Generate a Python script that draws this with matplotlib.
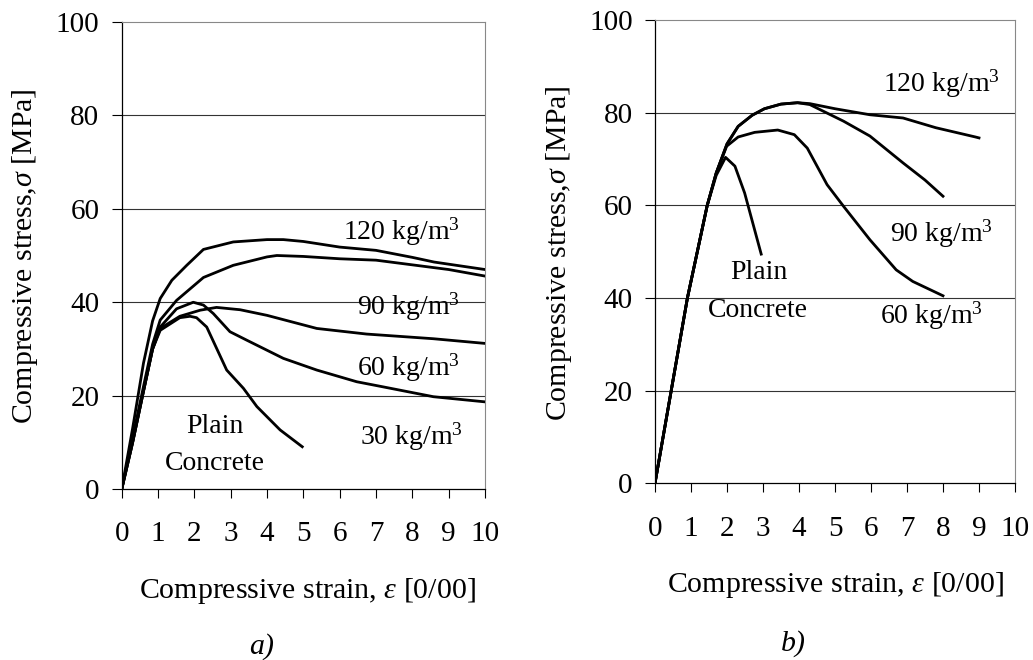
import matplotlib
matplotlib.use("Agg")
import matplotlib.pyplot as plt

plt.rcParams['font.family'] = ['Liberation Serif', 'DejaVu Serif']
plt.rcParams['mathtext.fontset'] = 'custom'
plt.rcParams['mathtext.rm'] = 'Liberation Serif'
plt.rcParams['mathtext.it'] = 'Liberation Serif:italic'

# ---- panel a) ----
a120_x = [0, 0.3, 0.6, 0.85, 1.06, 1.38, 1.79, 2.25, 3.07, 4.0, 4.45, 5.0, 6.0, 7.0, 8.0, 8.6, 10]
a120_y = [0, 13, 27, 36, 40.8, 44.7, 47.9, 51.3, 52.9, 53.4, 53.4, 53.0, 51.8, 51.1, 49.6, 48.6, 47.0]
a90_x = [0, 0.3, 0.6, 0.85, 1.06, 1.51, 2.25, 3.07, 4.0, 4.27, 5.0, 6.0, 7.0, 8.1, 9.0, 10]
a90_y = [0, 11, 22, 31, 36.2, 40.4, 45.3, 47.9, 49.7, 50.0, 49.8, 49.3, 49.0, 47.9, 47.0, 45.6]
a60_x = [0, 0.3, 0.6, 0.85, 1.06, 1.6, 2.16, 2.61, 3.26, 4.0, 5.37, 6.74, 8.58, 10]
a60_y = [0, 10, 21, 30, 34.4, 37.0, 38.3, 38.9, 38.4, 37.2, 34.4, 33.2, 32.2, 31.2]
a30_x = [0, 0.3, 0.6, 0.85, 1.06, 1.51, 1.97, 2.25, 2.52, 2.98, 3.44, 4.45, 5.37, 6.47, 7.2, 8.58, 10]
a30_y = [0, 10, 21, 30, 34.7, 38.6, 40.0, 39.4, 37.6, 33.7, 31.9, 28.0, 25.5, 23.0, 21.9, 19.8, 18.7]
a_plain_x = [0, 0.3, 0.6, 0.85, 1.06, 1.6, 1.88, 2.06, 2.34, 2.89, 3.35, 3.72, 4.36, 4.97]
a_plain_y = [0, 10, 21, 30, 34.0, 36.7, 37.0, 36.7, 34.7, 25.5, 21.6, 17.7, 12.7, 9.1]

# ---- panel b) ----
b120_x = [0, 0.45, 0.9, 1.45, 1.7, 2.0, 2.31, 2.7, 3.04, 3.5, 3.96, 4.3, 5.0, 5.97, 6.89, 7.8, 8.9, 9.0]
b120_y = [0, 20, 40, 60, 67, 73.3, 77.1, 79.5, 80.9, 81.9, 82.2, 82.0, 80.9, 79.6, 78.9, 76.8, 74.8, 74.6]
b90_x = [0, 0.45, 0.9, 1.45, 1.7, 2.0, 2.31, 2.7, 3.04, 3.5, 3.96, 4.3, 5.24, 5.97, 6.89, 7.5, 8.0]
b90_y = [0, 20, 40, 60, 67, 73.3, 77.1, 79.5, 80.9, 81.9, 82.2, 81.8, 78.2, 75.0, 69.2, 65.5, 62.0]
b60_x = [0, 0.45, 0.9, 1.45, 1.7, 1.99, 2.31, 2.77, 3.41, 3.87, 4.23, 4.78, 5.24, 5.97, 6.7, 7.16, 8.0]
b60_y = [0, 20, 40, 60, 67, 72.8, 74.8, 75.8, 76.3, 75.3, 72.4, 64.5, 59.8, 52.6, 46.1, 43.6, 40.5]
b_plain_x = [0, 0.45, 0.9, 1.45, 1.7, 1.96, 2.22, 2.49, 2.95]
b_plain_y = [0, 20, 40, 60, 66.5, 70.4, 68.5, 62.7, 49.5]

x_ticks = list(range(0, 11))
y_ticks = [0, 20, 40, 60, 80, 100]

W, H = 1033, 660
fig = plt.figure(figsize=(W / 100, H / 100), dpi=100)


def setup(ax, xpad):
    ax.set_xlim(0, 10)
    ax.set_ylim(0, 100)
    ax.set_xticks(x_ticks)
    ax.set_yticks(y_ticks)
    ax.tick_params(axis='x', direction='out', length=6.5, width=0.8, pad=xpad, labelsize=21)
    ax.tick_params(axis='y', direction='out', length=7, width=0.8, pad=9, labelsize=21)
    for y in y_ticks[1:-1]:
        ax.axhline(y, color='#333333', lw=0.8, zorder=1)
    ax.spines['left'].set_color('black')
    ax.spines['bottom'].set_color('black')
    ax.spines['left'].set_linewidth(0.9)
    ax.spines['bottom'].set_linewidth(0.9)
    ax.spines['top'].set_color('#888888')
    ax.spines['right'].set_color('#888888')
    ax.spines['top'].set_linewidth(0.8)
    ax.spines['right'].set_linewidth(0.8)


lw = 2.0
ax1 = fig.add_axes([121.7 / W, 1 - 489.3 / H, 363.3 / W, 467.6 / H])
setup(ax1, 16)
for xs, ys in [(a120_x, a120_y), (a90_x, a90_y), (a60_x, a60_y), (a30_x, a30_y), (a_plain_x, a_plain_y)]:
    ax1.plot(xs, ys, color='black', lw=lw, zorder=3)

ax1.text(9.32, 55.0, '120 kg/m$^3$', fontsize=20, ha='right', va='center')
ax1.text(9.32, 39.1, '90 kg/m$^3$', fontsize=20, ha='right', va='center')
ax1.text(9.32, 25.9, '60 kg/m$^3$', fontsize=20, ha='right', va='center')
ax1.text(9.40, 11.2, '30 kg/m$^3$', fontsize=20, ha='right', va='center')
ax1.text(2.57, 13.4, 'Plain', fontsize=20, ha='center', va='center')
ax1.text(2.57, 5.6, 'Concrete', fontsize=20, ha='center', va='center')

ax2 = fig.add_axes([655 / W, 1 - 483.3 / H, 360 / W, 463 / H])
setup(ax2, 17)
for xs, ys in [(b120_x, b120_y), (b90_x, b90_y), (b60_x, b60_y), (b_plain_x, b_plain_y)]:
    ax2.plot(xs, ys, color='black', lw=lw, zorder=3)

ax2.text(9.58, 86.2, '120 kg/m$^3$', fontsize=20, ha='right', va='center')
ax2.text(9.39, 54.0, '90 kg/m$^3$', fontsize=20, ha='right', va='center')
ax2.text(9.11, 36.1, '60 kg/m$^3$', fontsize=20, ha='right', va='center')
ax2.text(2.89, 45.6, 'Plain', fontsize=20, ha='center', va='center')
ax2.text(2.86, 37.4, 'Concrete', fontsize=20, ha='center', va='center')

# axis titles and panel letters
ylab = r'Compressive stress,$\sigma$ [MPa]'
xlab = r'Compressive strain, $\varepsilon$ [0/00]'
fig.text(25 / W, 1 - 256 / H, ylab, rotation=90, fontsize=21.5, ha='center', va='center')
fig.text(559 / W, 1 - 253 / H, ylab, rotation=90, fontsize=21.5, ha='center', va='center')
fig.text(307 / W, 1 - 598 / H, xlab, fontsize=21.5, ha='center', va='baseline')
fig.text(835 / W, 1 - 592 / H, xlab, fontsize=21.5, ha='center', va='baseline')
fig.text(262 / W, 1 - 654 / H, 'a)', fontsize=21.5, style='italic', ha='center', va='baseline')
fig.text(793 / W, 1 - 651 / H, 'b)', fontsize=21.5, style='italic', ha='center', va='baseline')

fig.savefig('out.png', dpi=100, facecolor='white')
